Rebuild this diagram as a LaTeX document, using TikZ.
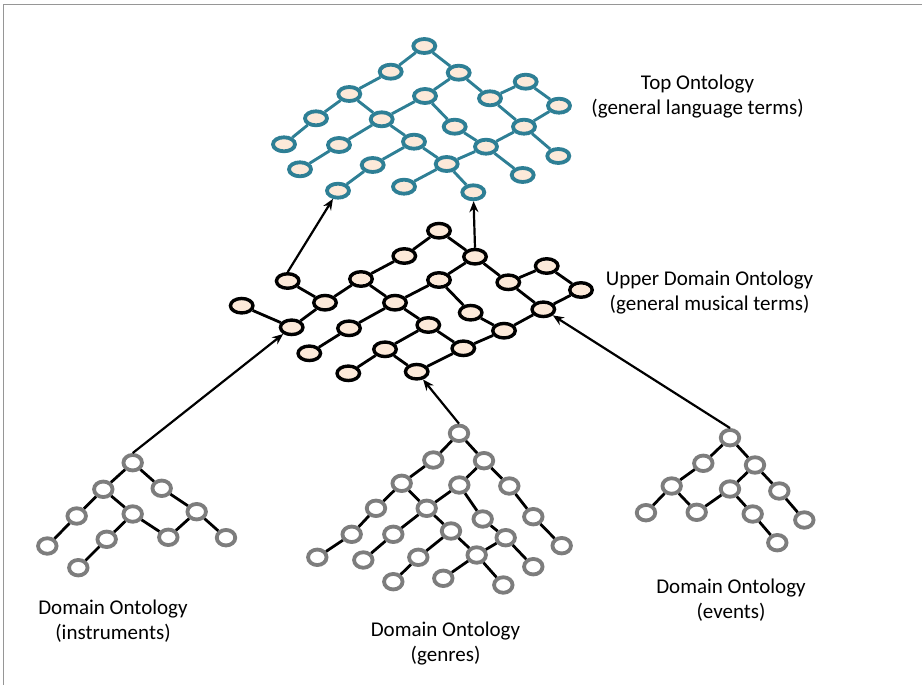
\documentclass[tikz,border=0pt]{standalone}
\usepackage{fontspec}
\setmainfont{Carlito}
\usetikzlibrary{shapes.geometric,arrows.meta}
\definecolor{tealb}{RGB}{46,127,149}
\definecolor{peach}{RGB}{252,233,217}
\definecolor{nodegray}{RGB}{125,125,125}
\definecolor{framegray}{RGB}{150,150,150}
\tikzset{
  tn/.style={ellipse,draw=tealb,fill=peach,line width=3.8pt,minimum width=22pt,minimum height=14pt,inner sep=0pt},
  un/.style={ellipse,draw=black,fill=peach,line width=3.4pt,minimum width=22.5pt,minimum height=14.5pt,inner sep=0pt},
  gn/.style={ellipse,draw=nodegray,fill=white,line width=3.8pt,minimum width=18.5pt,minimum height=15.5pt,inner sep=0pt},
  te/.style={draw=tealb,line width=2.9pt},
  be/.style={draw=black,line width=2.8pt},
  arr/.style={draw=black,line width=2.2pt,-{Stealth[length=11pt,width=9pt]}},
  lab/.style={align=center,font=\fontsize{21}{25}\selectfont,inner sep=0pt}
}
\begin{document}
\begin{tikzpicture}[x=1pt,y=-1pt]
\useasboundingbox (0,0) rectangle (922,685);
\fill[white] (0,0) rectangle (922,685);
% frame
\coordinate (fb) at (922,4.5);
\coordinate (fc) at (3.5,4.5);
\coordinate (fd) at (3.5,685);
\draw[framegray,line width=1.6pt] (fb) -- (fc) -- (fd);

% ---------- Top ontology ----------
\node[tn] (T1) at (424.3,46) {};
\node[tn] (T2) at (390.7,71.7) {};
\node[tn] (T3) at (458.7,72.7) {};
\node[tn] (T4) at (349.3,94) {};
\node[tn] (T5) at (425,96) {};
\node[tn] (T6) at (490,98.3) {};
\node[tn] (T7) at (525.7,81.7) {};
\node[tn] (T8) at (559,105.7) {};
\node[tn] (T9) at (316,118.3) {};
\node[tn] (T10) at (381.7,119.3) {};
\node[tn] (T11) at (454.7,126.7) {};
\node[tn] (T12) at (524,126.7) {};
\node[tn] (T13) at (284,144.3) {};
\node[tn] (T14) at (339,145) {};
\node[tn] (T15) at (414,141.7) {};
\node[tn] (T16) at (486,146.7) {};
\node[tn] (T17) at (558.3,156) {};
\node[tn] (T18) at (300,169.3) {};
\node[tn] (T19) at (372.7,165) {};
\node[tn] (T20) at (446.7,164) {};
\node[tn] (T21) at (522.7,175) {};
\node[tn] (T22) at (338,190.7) {};
\node[tn] (T23) at (404,186.7) {};
\node[tn] (T24) at (473.3,192.3) {};
\path[te] (T1) -- (T2) (T1) -- (T3) (T2) -- (T4) (T4) -- (T9) (T9) -- (T13)
  (T4) -- (T10) (T10) -- (T15) (T15) -- (T20) (T20) -- (T24)
  (T3) -- (T5) (T5) -- (T10) (T10) -- (T14) (T14) -- (T18)
  (T5) -- (T11) (T11) -- (T16) (T3) -- (T6) (T6) -- (T7) (T7) -- (T8)
  (T8) -- (T12) (T6) -- (T12) (T12) -- (T16) (T12) -- (T17)
  (T16) -- (T21) (T16) -- (T20) (T15) -- (T19) (T19) -- (T22) (T20) -- (T23);

% ---------- Upper domain ontology ----------
\node[un] (U1) at (439,230.7) {};
\node[un] (U2) at (404.3,256) {};
\node[un] (U3) at (475,256.7) {};
\node[un] (U4) at (361,279) {};
\node[un] (U5) at (439,280) {};
\node[un] (U6) at (508.3,282.3) {};
\node[un] (U7) at (546.7,266) {};
\node[un] (U8) at (581,290) {};
\node[un] (U9) at (287.7,281) {};
\node[un] (U10) at (325,302.7) {};
\node[un] (U11) at (395,302.7) {};
\node[un] (U12) at (470.7,312.7) {};
\node[un] (U13) at (543.3,309.3) {};
\node[un] (U14) at (241.7,305.7) {};
\node[un] (U15) at (291.7,327.3) {};
\node[un] (U16) at (349,328.3) {};
\node[un] (U17) at (428.3,325) {};
\node[un] (U18) at (504,330.7) {};
\node[un] (U19) at (309.3,353.3) {};
\node[un] (U20) at (385,349.3) {};
\node[un] (U21) at (463.3,348.3) {};
\node[un] (U22) at (348.3,373.3) {};
\node[un] (U23) at (416.7,371.7) {};
\path[be] (U1) -- (U2) (U1) -- (U3) (U2) -- (U4) (U4) -- (U10) (U10) -- (U15)
  (U9) -- (U10) (U14) -- (U15) (U4) -- (U11) (U11) -- (U17) (U17) -- (U21)
  (U3) -- (U5) (U5) -- (U11) (U11) -- (U16) (U16) -- (U19) (U5) -- (U12)
  (U12) -- (U18) (U3) -- (U6) (U6) -- (U7) (U7) -- (U8) (U8) -- (U13)
  (U6) -- (U13) (U13) -- (U18) (U18) -- (U21) (U21) -- (U23)
  (U17) -- (U20) (U20) -- (U22) (U20) -- (U23);

% ---------- Instruments ----------
\node[gn] (I1) at (132.7,462.7) {};
\node[gn] (I2) at (103.3,489.3) {};
\node[gn] (I3) at (161.7,488.3) {};
\node[gn] (I4) at (76.7,516) {};
\node[gn] (I5) at (132.7,514) {};
\node[gn] (I6) at (196.7,511.7) {};
\node[gn] (I7) at (47.3,546) {};
\node[gn] (I8) at (106.7,539.3) {};
\node[gn] (I9) at (168.3,537.3) {};
\node[gn] (I10) at (226,537.7) {};
\node[gn] (I11) at (78.3,567.7) {};
\path[be] (I1) -- (I2) (I1) -- (I3) (I2) -- (I4) (I4) -- (I7) (I2) -- (I5)
  (I5) -- (I8) (I8) -- (I11) (I5) -- (I9) (I3) -- (I6) (I6) -- (I9) (I6) -- (I10);

% ---------- Genres ----------
\node[gn] (G1) at (459,433.3) {};
\node[gn] (G2) at (433.3,460) {};
\node[gn] (G3) at (484,460.7) {};
\node[gn] (G4) at (401.7,483.3) {};
\node[gn] (G5) at (459.3,485) {};
\node[gn] (G6) at (509.3,486) {};
\node[gn] (G7) at (376,508.3) {};
\node[gn] (G8) at (426.7,508.3) {};
\node[gn] (G9) at (482.7,519) {};
\node[gn] (G10) at (533.3,516.7) {};
\node[gn] (G11) at (351.7,534.3) {};
\node[gn] (G12) at (393.3,534.3) {};
\node[gn] (G13) at (451,531) {};
\node[gn] (G14) at (505.7,537.7) {};
\node[gn] (G15) at (561.7,545.7) {};
\node[gn] (G16) at (317.3,557.3) {};
\node[gn] (G17) at (363.3,560) {};
\node[gn] (G18) at (418.3,557.3) {};
\node[gn] (G19) at (476.7,555) {};
\node[gn] (G20) at (533.3,566.7) {};
\node[gn] (G21) at (393.3,581.7) {};
\node[gn] (G22) at (443.3,578.3) {};
\node[gn] (G23) at (503.3,585) {};
\path[be] (G1) -- (G2) (G1) -- (G3) (G2) -- (G4) (G4) -- (G7) (G7) -- (G11)
  (G11) -- (G16) (G4) -- (G8) (G8) -- (G13) (G13) -- (G19) (G19) -- (G23)
  (G3) -- (G5) (G5) -- (G8) (G8) -- (G12) (G12) -- (G17) (G5) -- (G9)
  (G9) -- (G14) (G14) -- (G20) (G14) -- (G19) (G19) -- (G22) (G13) -- (G18)
  (G18) -- (G21) (G3) -- (G6) (G6) -- (G10) (G10) -- (G15);

% ---------- Events ----------
\node[gn] (E1) at (730,437.7) {};
\node[gn] (E2) at (703.3,463.3) {};
\node[gn] (E3) at (755,465) {};
\node[gn] (E4) at (671.7,486) {};
\node[gn] (E5) at (730,489) {};
\node[gn] (E6) at (779.3,491) {};
\node[gn] (E7) at (646,512.7) {};
\node[gn] (E8) at (696.7,512.3) {};
\node[gn] (E9) at (752.7,514) {};
\node[gn] (E10) at (804.3,520) {};
\node[gn] (E11) at (777.3,542.7) {};
\path[be] (E1) -- (E2) (E1) -- (E3) (E2) -- (E4) (E4) -- (E7) (E4) -- (E8)
  (E8) -- (E5) (E3) -- (E5) (E5) -- (E9) (E9) -- (E11) (E3) -- (E6) (E6) -- (E10);

% ---------- Arrows ----------
\draw[arr] (U9.north) -- (T22);
\draw[arr] (U3.north) -- (T24);
\draw[arr] (I1.north) -- (U15);
\draw[arr] (G1.north) -- (U23);
\draw[arr] (E1.north) -- (U13);

% ---------- Labels ----------
\node[lab] (Ltop) at (697.5,97) {Top Ontology\\(general language terms)};
\node[lab] (Lup) at (709.5,293) {Upper Domain Ontology\\(general musical terms)};
\node[lab] (Lin) at (113,621) {Domain Ontology\\(instruments)};
\node[lab] (Lge) at (445.5,644) {Domain Ontology\\(genres)};
\node[lab] (Lev) at (731,600) {Domain Ontology\\(events)};
\end{tikzpicture}
\end{document}
